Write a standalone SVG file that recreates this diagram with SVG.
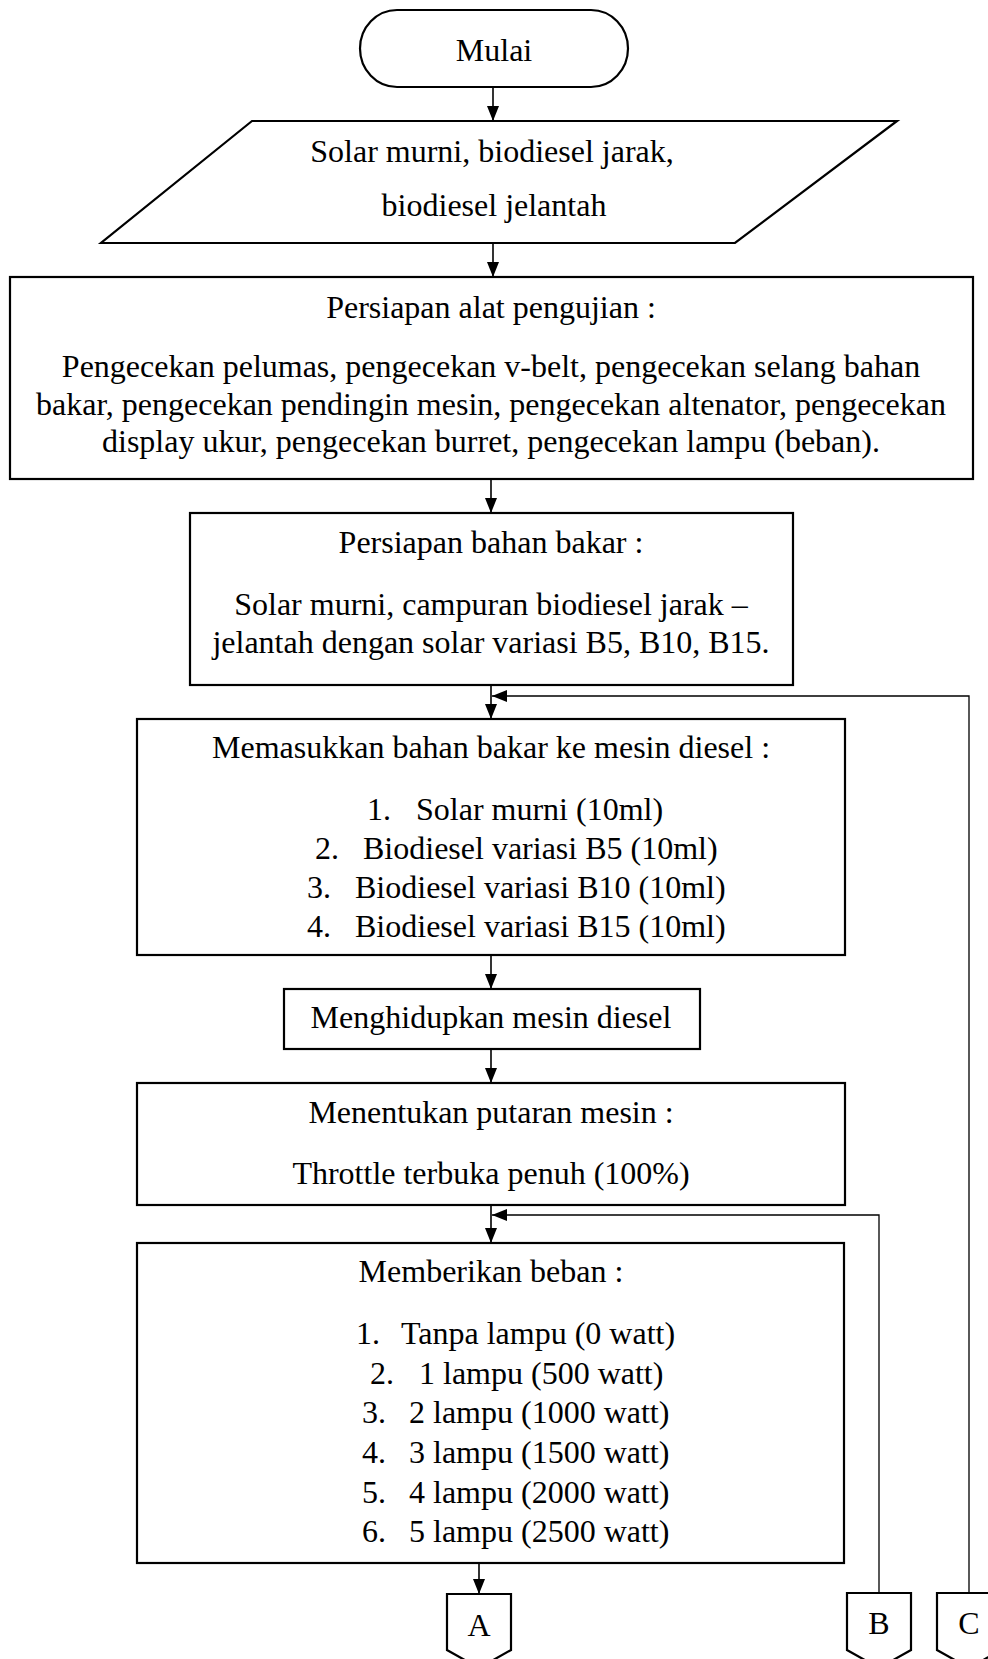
<svg xmlns="http://www.w3.org/2000/svg" width="988" height="1659" viewBox="0 0 988 1659">
<style>
.b{fill:#fff;stroke:#000;stroke-width:2.2}
.t{font-family:"Liberation Serif","Times New Roman",serif;font-size:32px;fill:#000}
.c{text-anchor:middle}
.ln{fill:none;stroke:#000;stroke-width:1.6}
.lp{fill:none;stroke:#000;stroke-width:1.3}
.ah{fill:#000}
</style>
<defs>
<marker id="arr" viewBox="0 0 15 12" refX="15" refY="6" markerWidth="15" markerHeight="12" markerUnits="userSpaceOnUse" orient="auto">
<path d="M0,0 L15,6 L0,12 Z" class="ah"/>
</marker>
</defs>
<rect width="988" height="1659" fill="#fff"/>

<g id="connectors">
<line class="ln" x1="493" y1="87" x2="493" y2="121" marker-end="url(#arr)"/>
<line class="ln" x1="493" y1="243" x2="493" y2="277" marker-end="url(#arr)"/>
<line class="ln" x1="491" y1="479" x2="491" y2="513" marker-end="url(#arr)"/>
<line class="ln" x1="491" y1="685" x2="491" y2="719" marker-end="url(#arr)"/>
<line class="ln" x1="491" y1="955" x2="491" y2="989" marker-end="url(#arr)"/>
<line class="ln" x1="491" y1="1049" x2="491" y2="1083" marker-end="url(#arr)"/>
<line class="ln" x1="491" y1="1205" x2="491" y2="1243" marker-end="url(#arr)"/>
<line class="ln" x1="479" y1="1563" x2="479" y2="1594" marker-end="url(#arr)"/>
<polyline class="lp" points="969,1593 969,696 492,696" marker-end="url(#arr)"/>
<polyline class="lp" points="879,1593 879,1215 492,1215" marker-end="url(#arr)"/>
</g>

<g id="start">
<rect class="b" x="360" y="10" width="268" height="77" rx="37" ry="38.5"/>
<text class="t c" x="494" y="61">Mulai</text>
</g>

<g id="input">
<polygon class="b" points="252,121 897,121 735,243 101,243"/>
<text class="t c" x="492" y="162">Solar murni, biodiesel jarak,</text>
<text class="t c" x="494" y="216">biodiesel jelantah</text>
</g>

<g id="persiapan-alat">
<rect class="b" x="10" y="277" width="963" height="202"/>
<text class="t c" x="491" y="318">Persiapan alat pengujian :</text>
<text class="t c" x="491" y="377">Pengecekan pelumas, pengecekan v-belt, pengecekan selang bahan</text>
<text class="t c" x="491" y="415">bakar, pengecekan pendingin mesin, pengecekan altenator, pengecekan</text>
<text class="t c" x="491" y="452">display ukur, pengecekan burret, pengecekan lampu (beban).</text>
</g>

<g id="persiapan-bahan">
<rect class="b" x="190" y="513" width="603" height="172"/>
<text class="t c" x="491" y="553">Persiapan bahan bakar :</text>
<text class="t c" x="491" y="615">Solar murni, campuran biodiesel jarak –</text>
<text class="t c" x="491" y="653">jelantah dengan solar variasi B5, B10, B15.</text>
</g>

<g id="memasukkan">
<rect class="b" x="137" y="719" width="708" height="236"/>
<text class="t c" x="491" y="758">Memasukkan bahan bakar ke mesin diesel :</text>
<text class="t" x="367" y="820">1.</text><text class="t" x="416" y="820">Solar murni (10ml)</text>
<text class="t" x="315" y="859">2.</text><text class="t" x="363" y="859">Biodiesel variasi B5 (10ml)</text>
<text class="t" x="307" y="898">3.</text><text class="t" x="355" y="898">Biodiesel variasi B10 (10ml)</text>
<text class="t" x="307" y="937">4.</text><text class="t" x="355" y="937">Biodiesel variasi B15 (10ml)</text>
</g>

<g id="menghidupkan">
<rect class="b" x="284" y="989" width="416" height="60"/>
<text class="t c" x="491" y="1028">Menghidupkan mesin diesel</text>
</g>

<g id="menentukan">
<rect class="b" x="137" y="1083" width="708" height="122"/>
<text class="t c" x="491" y="1123">Menentukan putaran mesin :</text>
<text class="t c" x="491" y="1184">Throttle terbuka penuh (100%)</text>
</g>

<g id="beban">
<rect class="b" x="137" y="1243" width="707" height="320"/>
<text class="t c" x="491" y="1282">Memberikan beban :</text>
<text class="t" x="356" y="1344">1.</text><text class="t" x="401" y="1344">Tanpa lampu (0 watt)</text>
<text class="t" x="370" y="1384">2.</text><text class="t" x="419" y="1384">1 lampu (500 watt)</text>
<text class="t" x="362" y="1423">3.</text><text class="t" x="409" y="1423">2 lampu (1000 watt)</text>
<text class="t" x="362" y="1463">4.</text><text class="t" x="409" y="1463">3 lampu (1500 watt)</text>
<text class="t" x="362" y="1503">5.</text><text class="t" x="409" y="1503">4 lampu (2000 watt)</text>
<text class="t" x="362" y="1542">6.</text><text class="t" x="409" y="1542">5 lampu (2500 watt)</text>
</g>

<g id="conn-A">
<polygon class="b" points="447,1594 511,1594 511,1650 479,1668 447,1650"/>
<text class="t c" x="479" y="1636">A</text>
</g>
<g id="conn-B">
<polygon class="b" points="847,1593 911,1593 911,1650 879,1668 847,1650"/>
<text class="t c" x="879" y="1634">B</text>
</g>
<g id="conn-C">
<polygon class="b" points="937,1593 1001,1593 1001,1650 969,1668 937,1650"/>
<text class="t c" x="969" y="1634">C</text>
</g>
</svg>
